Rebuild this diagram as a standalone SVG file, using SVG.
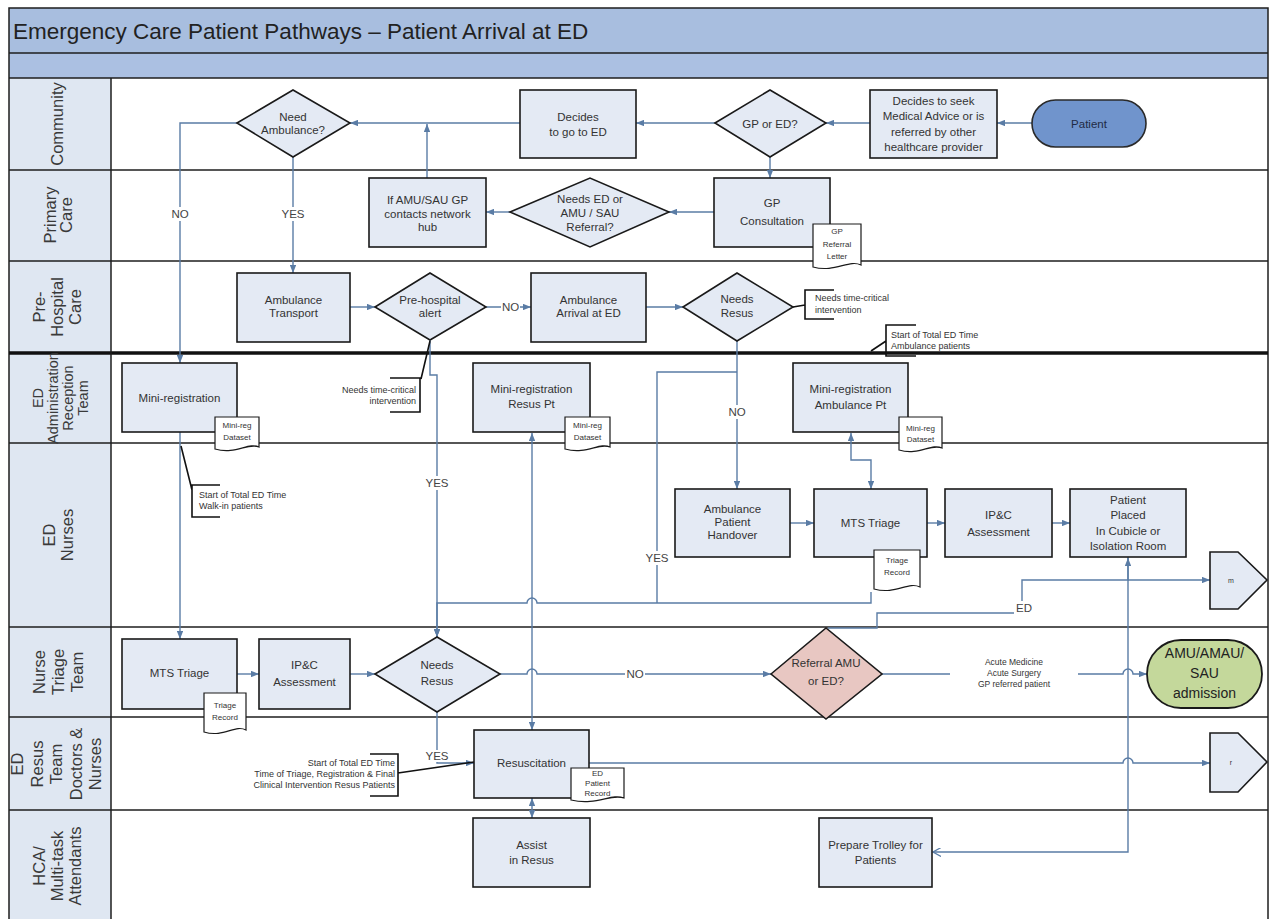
<svg xmlns="http://www.w3.org/2000/svg" width="1270" height="919" viewBox="0 0 1270 919">
<defs>
<marker id="ah" viewBox="0 0 10 8" refX="10" refY="4" markerWidth="8" markerHeight="6.4" orient="auto-start-reverse" markerUnits="userSpaceOnUse"><path d="M0,0 L10,4 L0,8 z" fill="#5a7ca5"/></marker>
<marker id="ao" viewBox="0 0 10 10" refX="9" refY="5" markerWidth="9" markerHeight="9" orient="auto" markerUnits="userSpaceOnUse"><path d="M0,0 L9,5 L0,10" fill="none" stroke="#5a7ca5" stroke-width="1.4"/></marker>
<style>
text{font-family:"Liberation Sans",Arial,sans-serif;fill:#333}
.lane{font-size:16.5px;text-anchor:middle;fill:#3a3a3a}
.hd{fill:#dfe7f2;stroke:none}
.sep{stroke:#1e1e1e;stroke-width:1.5}
.box{fill:#e4eaf4;stroke:#1a1a1a;stroke-width:1.6}
.doc{fill:#ffffff;stroke:#1a1a1a;stroke-width:1.2}
.t{font-size:11.5px;text-anchor:middle}
.d{font-size:8px;text-anchor:middle}
.s{font-size:9px}
.c{fill:none;stroke:#5a7ca5;stroke-width:1.4}
.ca{fill:none;stroke:#5a7ca5;stroke-width:1.4;marker-end:url(#ah)}
.cb{fill:none;stroke:#5a7ca5;stroke-width:1.4;marker-start:url(#ah);marker-end:url(#ah)}
.an{fill:none;stroke:#111;stroke-width:1.6}
.lb{font-size:11.5px;text-anchor:middle;fill:#444}
.bg{fill:#fff}
</style>
</defs>

<!-- background, bands, lanes -->
<g id="frame">
<rect x="0" y="0" width="1270" height="919" fill="#fff"/>
<rect x="9" y="8" width="1259" height="45" fill="#a8bedf"/>
<rect x="9" y="53" width="1259" height="25" fill="#abc0e2"/>
<rect class="hd" x="9" y="78" width="102" height="841"/>
<text x="13" y="39" style="font-size:22.5px;fill:#222">Emergency Care Patient Pathways – Patient Arrival at ED</text>
<rect x="9" y="8" width="1259" height="915" fill="none" stroke="#1e1e1e" stroke-width="1.5"/>
<line class="sep" x1="9" y1="53" x2="1268" y2="53"/>
<line class="sep" x1="9" y1="78" x2="1268" y2="78"/>
<line class="sep" x1="9" y1="170" x2="1268" y2="170"/>
<line class="sep" x1="9" y1="261" x2="1268" y2="261"/>
<line x1="9" y1="353" x2="1268" y2="353" stroke="#111" stroke-width="3.5"/>
<line class="sep" x1="9" y1="443" x2="1268" y2="443"/>
<line class="sep" x1="9" y1="627" x2="1268" y2="627"/>
<line class="sep" x1="9" y1="717" x2="1268" y2="717"/>
<line class="sep" x1="9" y1="810" x2="1268" y2="810"/>
<line class="sep" x1="111" y1="78" x2="111" y2="919"/>
</g>

<g id="lane-labels">
<text class="lane" transform="translate(57,124) rotate(-90)"><tspan x="0" y="6">Community</tspan></text>
<text class="lane" transform="translate(57.5,215) rotate(-90)"><tspan x="0" y="-2">Primary</tspan><tspan x="0" y="14">Care</tspan></text>
<text class="lane" transform="translate(57,307) rotate(-90)"><tspan x="0" y="-12">Pre-</tspan><tspan x="0" y="6">Hospital</tspan><tspan x="0" y="24">Care</tspan></text>
<text class="lane" style="font-size:14.5px" transform="translate(60,398) rotate(-90)"><tspan x="0" y="-17.5">ED</tspan><tspan x="0" y="-2.5">Administration</tspan><tspan x="0" y="12.5">Reception</tspan><tspan x="0" y="27.5">Team</tspan></text>
<text class="lane" transform="translate(58,535) rotate(-90)"><tspan x="0" y="-3">ED</tspan><tspan x="0" y="15">Nurses</tspan></text>
<text class="lane" transform="translate(58,672) rotate(-90)"><tspan x="0" y="-13">Nurse</tspan><tspan x="0" y="6">Triage</tspan><tspan x="0" y="25">Team</tspan></text>
<text class="lane" transform="translate(56,764) rotate(-90)"><tspan x="0" y="-33">ED</tspan><tspan x="0" y="-13.5">Resus</tspan><tspan x="0" y="6">Team</tspan><tspan x="0" y="25.5">Doctors &amp;</tspan><tspan x="0" y="45">Nurses</tspan></text>
<text class="lane" transform="translate(57,866) rotate(-90)"><tspan x="0" y="-12">HCA/</tspan><tspan x="0" y="6">Multi-task</tspan><tspan x="0" y="24">Attendants</tspan></text>
</g>

<!-- connectors -->
<g id="connectors">
<path class="ca" d="M1032,123 H997"/>
<path class="ca" d="M870,123 H826"/>
<path class="ca" d="M715,123 H636"/>
<path class="ca" d="M770,157 V178"/>
<path class="ca" d="M520,123 H350"/>
<path class="ca" d="M714,212 H669"/>
<path class="ca" d="M510,212 H486"/>
<path class="ca" d="M427,178 V124"/>
<path class="ca" d="M237,123 H180 V363"/>
<path class="ca" d="M293,157 V273"/>
<path class="ca" d="M350,307 H375"/>
<path class="ca" d="M486,307 H531"/>
<path class="ca" d="M646,307 H683"/>
<path class="ca" d="M737,341 V489"/>
<path class="c" d="M737,372 H657 V603"/>
<path class="ca" d="M430,340 V375 H437 V637"/>
<path class="ca" d="M871,592 V603 H537 a5,5 0 0 0 -10,0 H437 V637"/>
<path class="cb" d="M532,433 V730"/>
<path class="cb" d="M851,433 V460 H871 V489"/>
<path class="ca" d="M180,432 V639"/>
<path class="ca" d="M790,523 H814"/>
<path class="ca" d="M927,523 H945"/>
<path class="ca" d="M1052,523 H1070"/>
<path class="ca" d="M828,628 H877 V613 H1022 V580 H1128 V558"/>
<path class="ca" d="M1128,580 H1210"/>
<path class="c" d="M1128,557 V852 H933" marker-end="url(#ao)"/>
<path class="ca" d="M237,674 H259"/>
<path class="ca" d="M350,674 H375"/>
<path class="ca" d="M500,674 H527 a5,5 0 0 1 10,0 H771"/>
<path class="ca" d="M882,674 H1123 a5,5 0 0 1 10,0 H1147"/>
<path class="ca" d="M437,712 V763 H474"/>
<path class="ca" d="M589,763 H1123 a5,5 0 0 1 10,0 H1210"/>
<path class="cb" d="M532,798 V818"/>
<!-- labels -->
<rect class="bg" x="171" y="207" width="19" height="14"/><text class="lb" x="180" y="218">NO</text>
<rect class="bg" x="281" y="207" width="25" height="14"/><text class="lb" x="293" y="218">YES</text>
<rect class="bg" x="501" y="300" width="19" height="14"/><text class="lb" x="510.5" y="311">NO</text>
<rect class="bg" x="727" y="405" width="20" height="14"/><text class="lb" x="737" y="416">NO</text>
<rect class="bg" x="425" y="476" width="25" height="14"/><text class="lb" x="437" y="487">YES</text>
<rect class="bg" x="644" y="551" width="26" height="14"/><text class="lb" x="657" y="562">YES</text>
<rect class="bg" x="625" y="667" width="20" height="14"/><text class="lb" x="635" y="678">NO</text>
<rect class="bg" x="1014" y="601" width="20" height="14"/><text class="lb" x="1024" y="612">ED</text>
<rect class="bg" x="424" y="750" width="27" height="12"/><text class="lb" x="437" y="760">YES</text>
<rect class="bg" x="950" y="654" width="128" height="36"/>
<text class="s" x="1014" y="665" text-anchor="middle" style="font-size:8.5px">Acute Medicine</text>
<text class="s" x="1014" y="676" text-anchor="middle" style="font-size:8.5px">Acute Surgery</text>
<text class="s" x="1014" y="687" text-anchor="middle" style="font-size:8.5px">GP referred patient</text>
</g>

<!-- annotations -->
<g id="annotations">
<path class="an" d="M793,307 L805,305 M834,290 H805 V319 H834"/>
<text class="s" x="815" y="301">Needs time-critical</text>
<text class="s" x="815" y="313">intervention</text>
<path class="an" d="M871,351 L886,341 M916,325 H886 V356 H916"/>
<text class="s" x="891" y="338">Start of Total ED Time</text>
<text class="s" x="891" y="349">Ambulance patients</text>
<path class="an" d="M430,341 L421,379 M390,378 H420 V412 H390"/>
<text class="s" x="416" y="393" text-anchor="end">Needs time-critical</text>
<text class="s" x="416" y="404" text-anchor="end">intervention</text>
<path class="an" d="M181,446 L192,490 M220,485 H192 V517 H220"/>
<text class="s" x="199" y="498">Start of Total ED Time</text>
<text class="s" x="199" y="509">Walk-in patients</text>
<path class="an" d="M398,773 L474,762 M370,754 H398 V796 H370"/>
<text class="s" x="395" y="766" text-anchor="end">Start of Total ED Time</text>
<text class="s" x="395" y="777" text-anchor="end">Time of Triage, Registration &amp; Final</text>
<text class="s" x="395" y="788" text-anchor="end">Clinical Intervention Resus Patients</text>
</g>

<!-- Community -->
<g id="need-ambulance"><polygon class="box" points="237,123 293,90 350,123 293,157"/><text class="t" x="293" y="121">Need</text><text class="t" x="293" y="134">Ambulance?</text></g>
<g id="decides-go-ed"><rect class="box" x="520" y="90" width="116" height="68"/><text class="t" x="578" y="121">Decides</text><text class="t" x="578" y="136">to go to ED</text></g>
<g id="gp-or-ed"><polygon class="box" points="715,123 770,90 826,123 770,157"/><text class="t" x="770" y="128">GP or ED?</text></g>
<g id="decides-seek"><rect class="box" x="870" y="90" width="127" height="68"/><text class="t" x="933.5" y="104.5">Decides to seek</text><text class="t" x="933.5" y="120">Medical Advice or is</text><text class="t" x="933.5" y="135.5">referred by other</text><text class="t" x="933.5" y="151">healthcare provider</text></g>
<g id="patient"><rect x="1032" y="100" width="114" height="47" rx="23.5" fill="#7094cc" stroke="#2a2a2a" stroke-width="1.6"/><text class="t" x="1089" y="128" style="fill:#1f2b45">Patient</text></g>

<!-- Primary care -->
<g id="amu-sau-gp"><rect class="box" x="369" y="178" width="117" height="69"/><text class="t" x="427.5" y="204">If AMU/SAU GP</text><text class="t" x="427.5" y="217.5">contacts network</text><text class="t" x="427.5" y="231">hub</text></g>
<g id="needs-ed-amu"><polygon class="box" points="510,212 590,178 669,212 590,247"/><text class="t" x="590" y="203">Needs ED or</text><text class="t" x="590" y="217">AMU / SAU</text><text class="t" x="590" y="231">Referral?</text></g>
<g id="gp-consultation"><rect class="box" x="714" y="178" width="116" height="69"/><text class="t" x="772" y="207">GP</text><text class="t" x="772" y="225">Consultation</text>
<path class="doc" d="M813,224 H861 V265 C849,259 835,273 813,267 Z"/><text class="d" x="837" y="234">GP</text><text class="d" x="837" y="247">Referral</text><text class="d" x="837" y="259">Letter</text></g>

<!-- Pre-hospital -->
<g id="ambulance-transport"><rect class="box" x="237" y="273" width="113" height="69"/><text class="t" x="293.5" y="304">Ambulance</text><text class="t" x="293.5" y="317">Transport</text></g>
<g id="prehospital-alert"><polygon class="box" points="375,307 430,273 486,307 430,340"/><text class="t" x="430" y="304">Pre-hospital</text><text class="t" x="430" y="317">alert</text></g>
<g id="ambulance-arrival"><rect class="box" x="531" y="273" width="115" height="69"/><text class="t" x="588.5" y="304">Ambulance</text><text class="t" x="588.5" y="317">Arrival at ED</text></g>
<g id="needs-resus-1"><polygon class="box" points="683,307 737,273 793,307 737,341"/><text class="t" x="737" y="303">Needs</text><text class="t" x="737" y="317">Resus</text></g>

<!-- ED admin -->
<g id="mini-reg"><rect class="box" x="122" y="363" width="115" height="69"/><text class="t" x="179.5" y="402">Mini-registration</text>
<path class="doc" d="M215,417 H259 V447 C248,442 236,455 215,449 Z"/><text class="d" x="237" y="428">Mini-reg</text><text class="d" x="237" y="440">Dataset</text></g>
<g id="mini-reg-resus"><rect class="box" x="473" y="363" width="117" height="69"/><text class="t" x="531.5" y="393">Mini-registration</text><text class="t" x="531.5" y="408">Resus Pt</text>
<path class="doc" d="M565,417 H610 V447 C599,442 587,455 565,449 Z"/><text class="d" x="587.5" y="428">Mini-reg</text><text class="d" x="587.5" y="440">Dataset</text></g>
<g id="mini-reg-amb"><rect class="box" x="793" y="363" width="115" height="69"/><text class="t" x="850.5" y="393">Mini-registration</text><text class="t" x="850.5" y="409">Ambulance Pt</text>
<path class="doc" d="M899,417 H942 V448 C931,443 919,456 899,450 Z"/><text class="d" x="920.5" y="431">Mini-reg</text><text class="d" x="920.5" y="442">Dataset</text></g>

<!-- ED nurses -->
<g id="handover"><rect class="box" x="675" y="489" width="115" height="68"/><text class="t" x="732.5" y="513">Ambulance</text><text class="t" x="732.5" y="526">Patient</text><text class="t" x="732.5" y="539">Handover</text></g>
<g id="mts-triage-1"><rect class="box" x="814" y="489" width="113" height="68"/><text class="t" x="870.5" y="527">MTS Triage</text>
<path class="doc" d="M874,550 H920 V587 C908,581 896,595 874,589 Z"/><text class="d" x="897" y="563">Triage</text><text class="d" x="897" y="575">Record</text></g>
<g id="ipc-1"><rect class="box" x="945" y="489" width="107" height="68"/><text class="t" x="998.5" y="519">IP&amp;C</text><text class="t" x="998.5" y="536">Assessment</text></g>
<g id="patient-placed"><rect class="box" x="1070" y="489" width="116" height="68"/><text class="t" x="1128" y="504">Patient</text><text class="t" x="1128" y="519">Placed</text><text class="t" x="1128" y="535">In Cubicle or</text><text class="t" x="1128" y="550">Isolation Room</text></g>
<g id="offpage-m"><polygon class="box" points="1210,552 1238,552 1267,580 1238,609 1210,609"/><text class="d" x="1231" y="583" style="font-size:7px">m</text></g>

<!-- Nurse triage -->
<g id="mts-triage-2"><rect class="box" x="122" y="639" width="115" height="70"/><text class="t" x="179.5" y="677">MTS Triage</text>
<path class="doc" d="M204,693 H246 V730 C235,724 224,738 204,732 Z"/><text class="d" x="225" y="708">Triage</text><text class="d" x="225" y="720">Record</text></g>
<g id="ipc-2"><rect class="box" x="259" y="639" width="91" height="70"/><text class="t" x="304.5" y="669">IP&amp;C</text><text class="t" x="304.5" y="686">Assessment</text></g>
<g id="needs-resus-2"><polygon class="box" points="375,674 437,637 500,674 437,712"/><text class="t" x="437" y="669">Needs</text><text class="t" x="437" y="685">Resus</text></g>
<g id="referral-amu-ed"><polygon points="771,674 826,628 882,674 826,719" fill="#e8c7c2" stroke="#1a1a1a" stroke-width="1.6"/><text class="t" x="826" y="667">Referral AMU</text><text class="t" x="826" y="685">or ED?</text></g>
<g id="amu-admission"><rect x="1147" y="640" width="115" height="68" rx="34" fill="#c4d89b" stroke="#1a1a1a" stroke-width="1.8"/><text x="1204.5" y="658" text-anchor="middle" style="font-size:14px;fill:#222">AMU/AMAU/</text><text x="1204.5" y="678" text-anchor="middle" style="font-size:14px;fill:#222">SAU</text><text x="1204.5" y="698" text-anchor="middle" style="font-size:14px;fill:#222">admission</text></g>

<!-- ED resus -->
<g id="resuscitation"><rect class="box" x="474" y="730" width="115" height="68"/><text class="t" x="531.5" y="767">Resuscitation</text>
<path class="doc" d="M571,768 H624 V798 C611,793 597,806 571,800 Z"/><text class="d" x="597.5" y="776">ED</text><text class="d" x="597.5" y="786">Patient</text><text class="d" x="597.5" y="796">Record</text></g>
<g id="offpage-r"><polygon class="box" points="1210,733 1238,733 1267,762 1238,792 1210,792"/><text class="d" x="1231" y="765" style="font-size:7px">r</text></g>

<!-- HCA -->
<g id="assist-resus"><rect class="box" x="473" y="818" width="117" height="69"/><text class="t" x="531.5" y="849">Assist</text><text class="t" x="531.5" y="864">in Resus</text></g>
<g id="prepare-trolley"><rect class="box" x="819" y="818" width="113" height="69"/><text class="t" x="875.5" y="849">Prepare Trolley for</text><text class="t" x="875.5" y="864">Patients</text></g>
</svg>
